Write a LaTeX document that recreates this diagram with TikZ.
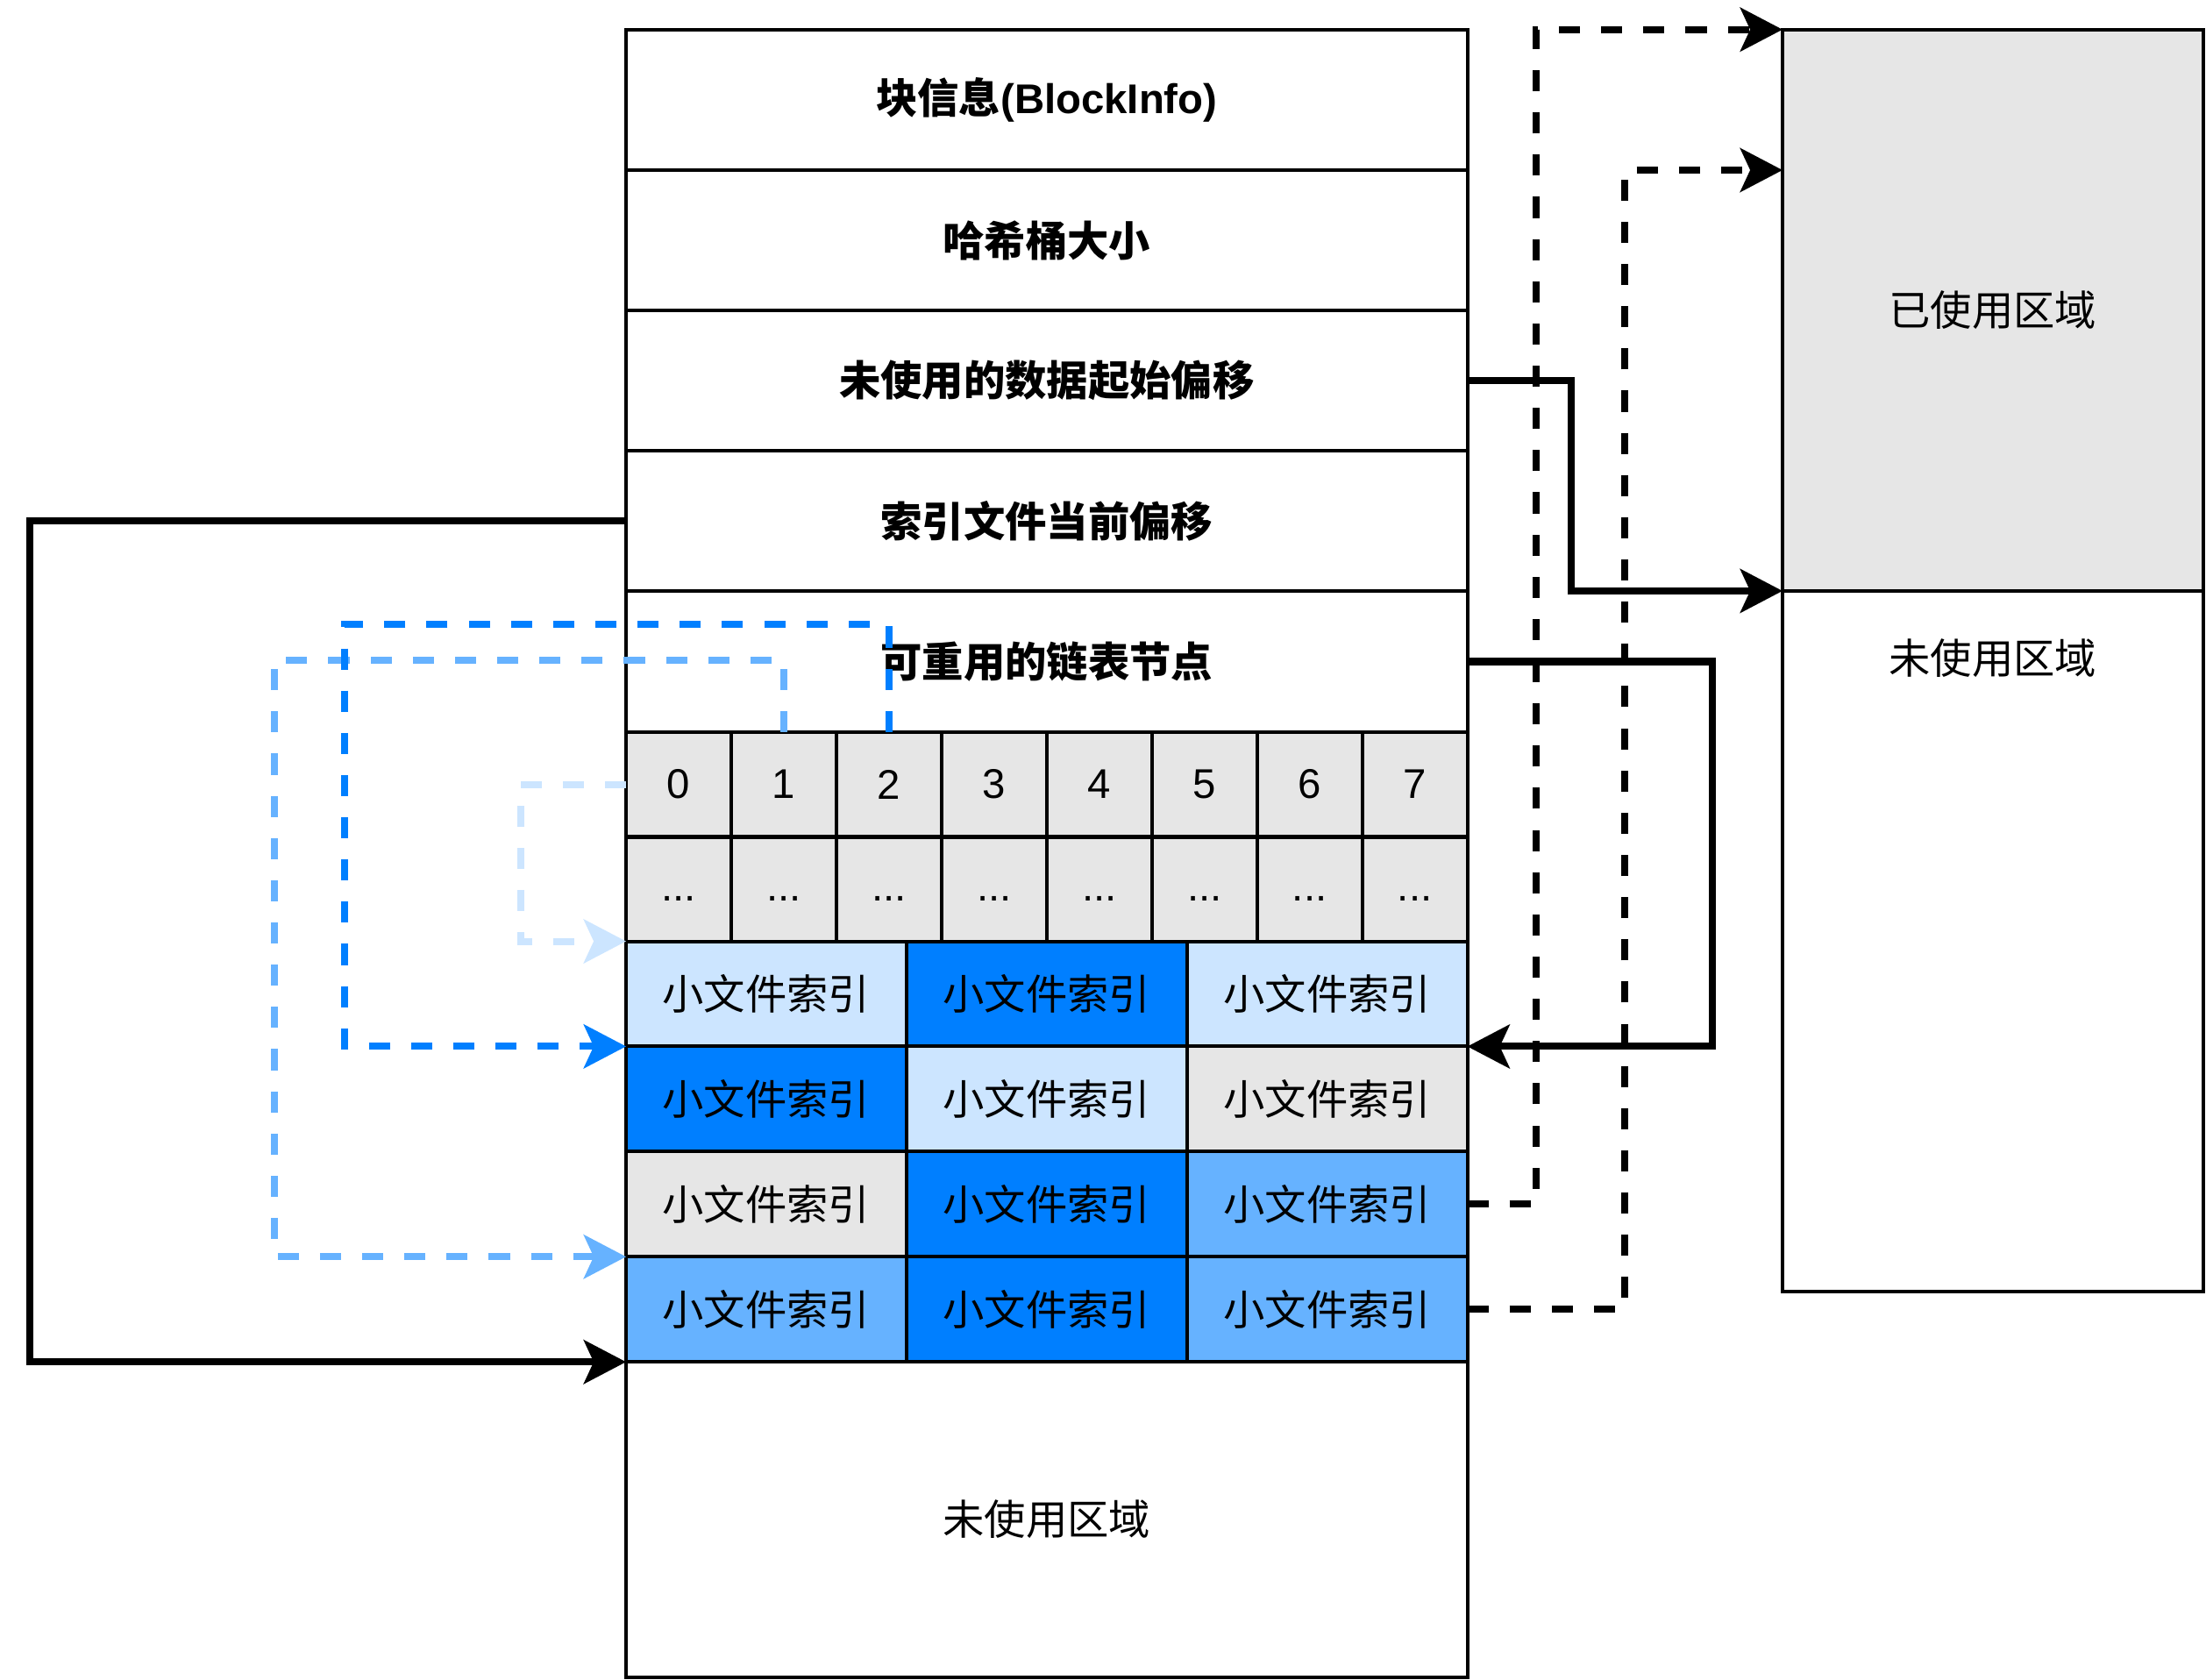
\documentclass[tikz,border=0pt]{standalone}
\usepackage{fontspec}
\setmainfont{Liberation Sans}
\newfontfamily\cjk{Noto Sans CJK SC}
\usetikzlibrary{arrows.meta}
\definecolor{cgray}{HTML}{E6E6E6}
\definecolor{clight}{HTML}{CCE5FF}
\definecolor{cblue}{HTML}{007FFF}
\definecolor{cmid}{HTML}{66B2FF}
\tikzset{
  box/.style={draw=black, line width=2.5pt, rectangle, inner sep=0pt, outer sep=0pt,
    font=\fontsize{29.5}{35}\selectfont},
  hdr/.style={box, fill=white, minimum width=598pt, minimum height=99.8pt,
    font=\fontsize{29.5}{35}\selectfont\cjk\bfseries},
  bucket/.style={box, fill=cgray, minimum width=74.75pt, minimum height=74.5pt},
  dots/.style={bucket, text height=21pt, text depth=5pt},
  sf/.style={box, minimum width=199.33pt, minimum height=74.75pt,
    font=\fontsize{29.5}{35}\selectfont\cjk},
  conn/.style={line width=5pt, draw=black,
    -{Stealth[length=30pt, width=31pt, inset=7pt]}},
  dconn/.style={conn, dash pattern=on 15pt off 15pt},
  plain/.style={font=\fontsize{29.5}{35}\selectfont\cjk, inner sep=0pt}
}
\begin{document}
\begin{tikzpicture}[x=1pt, y=-1pt]
\useasboundingbox (0,0) rectangle (1568,1194);
% header rows
\node[hdr] (blk)   at (744,71)    {块信息\normalfont\fontsize{29.5}{35}\selectfont\bfseries(BlockInfo)};
\node[hdr] (hash)  at (744,170.8) {哈希桶大小};
\node[hdr] (off)   at (744,270.6) {未使用的数据起始偏移};
\node[hdr] (idx)   at (744,370.4) {索引文件当前偏移};
\node[hdr] (reuse) at (744,470.2) {可重用的链表节点};
% bucket rows
\foreach \i in {0,...,7}{
  \node[bucket] (b\i) at ({445+74.75*(\i+0.5)},557.5) {\i};
  \node[dots]   (d\i) at ({445+74.75*(\i+0.5)},632.25) {...};
}
% small file index rows
\foreach \r/\y/\ca/\cb/\cc in {1/706.4/clight/cblue/clight, 2/781.1/cblue/clight/cgray,
  3/855.9/cgray/cblue/cmid, 4/930.6/cmid/cblue/cmid}{
  \node[sf, fill=\ca] (r\r c1) at (544.67,\y) {小文件索引};
  \node[sf, fill=\cb] (r\r c2) at (744,\y)    {小文件索引};
  \node[sf, fill=\cc] (r\r c3) at (943.33,\y) {小文件索引};
}
\node[box, fill=white, minimum width=598pt, minimum height=224pt,
  font=\fontsize{29.5}{35}\selectfont\cjk] (unused) at (744,1080) {未使用区域};
% right column
\node[box, fill=cgray, minimum width=299pt, minimum height=399pt,
  font=\fontsize{29.5}{35}\selectfont\cjk] (used) at (1416.5,220.5) {已使用区域};
\node[box, fill=white, minimum width=299pt, minimum height=498pt] (free) at (1416.5,669) {};
\node[plain] (freet) at (1416.5,468) {未使用区域};
\coordinate (u1) at (used.west |- hash.north);
% left connectors
\draw[conn] (idx.west) -- ++(-424,0) |- (unused.north west);
\draw[dconn, draw=cmid, cmid] (b1.north) |- (195,469) |- (r4c1.north west);
\draw[dconn, draw=cblue, cblue] (b2.north) |- (245,444) |- (r2c1.north west);
\draw[dconn, draw=clight, clight] (b0.west) -- ++(-75,0) |- (r1c1.north west);
% right connectors
\draw[conn] (off.east) -- ++(74,0) |- (used.south west);
\draw[conn] (reuse.east) -- ++(174,0) |- (r1c3.south east);
\draw[dconn] (r3c3.east) -- ++(49,0) |- (used.north west);
\draw[dconn] (r4c3.east) -- ++(112,0) |- (u1);
\end{tikzpicture}
\end{document}
